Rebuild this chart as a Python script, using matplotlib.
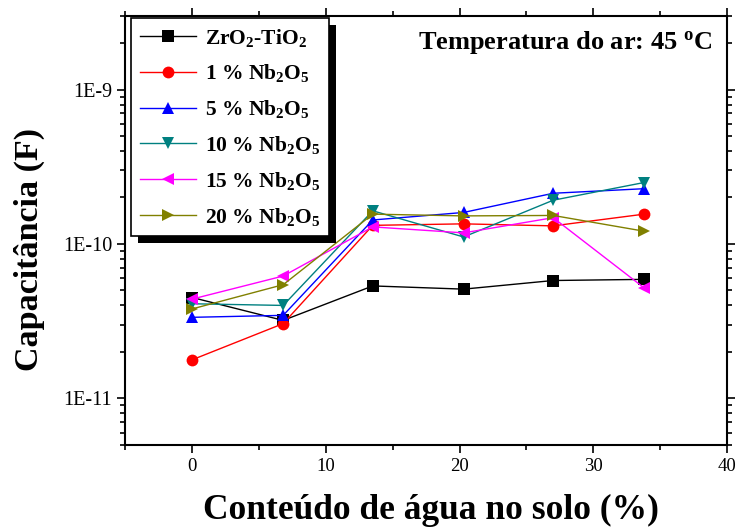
import numpy as np
import matplotlib
matplotlib.use("Agg")
import matplotlib.pyplot as plt
from matplotlib.ticker import FixedLocator, FuncFormatter, LogLocator, MultipleLocator, NullFormatter
from matplotlib.patches import Rectangle

plt.rcParams['font.family'] = ['Liberation Serif', 'DejaVu Serif']
plt.rcParams['mathtext.default'] = 'regular'

# Dados
agua = [0, 6.8, 13.5, 20.3, 27.0, 33.8]
zro2_tio2 = [4.5e-11, 3.2e-11, 5.35e-11, 5.1e-11, 5.8e-11, 5.9e-11]
nb_1 = [1.78e-11, 3.05e-11, 1.32e-10, 1.35e-10, 1.31e-10, 1.56e-10]
nb_5 = [3.35e-11, 3.45e-11, 1.43e-10, 1.6e-10, 2.13e-10, 2.28e-10]
nb_10 = [4.1e-11, 4.0e-11, 1.64e-10, 1.11e-10, 1.92e-10, 2.5e-10]
nb_15 = [4.4e-11, 6.2e-11, 1.29e-10, 1.18e-10, 1.48e-10, 5.2e-11]
nb_20 = [3.8e-11, 5.45e-11, 1.56e-10, 1.52e-10, 1.53e-10, 1.21e-10]

series = [
    (zro2_tio2, r'ZrO$_2$-TiO$_2$', 'black', 's'),
    (nb_1, r'1 % Nb$_2$O$_5$', 'red', 'o'),
    (nb_5, r'5 % Nb$_2$O$_5$', 'blue', '^'),
    (nb_10, r'10 % Nb$_2$O$_5$', '#008080', 'v'),
    (nb_15, r'15 % Nb$_2$O$_5$', 'magenta', '<'),
    (nb_20, r'20 % Nb$_2$O$_5$', '#808000', '>'),
]

fig = plt.figure(figsize=(7.38, 5.29), dpi=100)
ax = fig.add_axes([0.170, 0.159, 0.815, 0.811])

for vals, lab, cor, mk in series:
    ax.plot(agua, vals, marker=mk, color=cor, label=lab, linewidth=1.0,
            markersize=8.5, markeredgewidth=0)

ax.set_yscale('log')
ax.set_xlim(-5, 40)
ax.set_ylim(5e-12, 3e-9)

ax.xaxis.set_major_locator(MultipleLocator(10))
ax.xaxis.set_minor_locator(MultipleLocator(5))
ax.yaxis.set_major_locator(FixedLocator([1e-11, 1e-10, 1e-9]))
ax.yaxis.set_major_formatter(FuncFormatter(lambda v, p: '1E%d' % round(np.log10(v))))
ax.yaxis.set_minor_locator(LogLocator(base=10, subs=np.arange(2, 10)))
ax.yaxis.set_minor_formatter(NullFormatter())

ax.tick_params(which='both', direction='out', top=True, right=True, width=1.2)
ax.tick_params(axis='x', labelsize=13.5)
ax.tick_params(axis='y', labelsize=14.5)
ax.tick_params(which='major', length=6)
ax.tick_params(which='minor', length=3.5)
for s in ax.spines.values():
    s.set_linewidth(1.5)

ax.set_xlabel('Conteúdo de água no solo (%)', fontsize=25.5, fontweight='bold', labelpad=12)
ax.xaxis.set_label_coords(0.508, -0.115)
ax.xaxis.label.set_va('top')
ax.set_ylabel('Capacitância (F)', fontsize=24.5, fontweight='bold')
ax.yaxis.set_label_coords(-0.133, 0.455)

ax.text(0.975, 0.939, r'Temperatura do ar: 45 $^{o}$C', transform=ax.transAxes,
        ha='right', va='center', fontsize=19, fontweight='bold')

leg = ax.legend(loc='upper left', bbox_to_anchor=(0.01, 0.995), borderaxespad=0,
                prop={'weight': 'bold', 'size': 15.5}, fancybox=False, framealpha=1,
                edgecolor='black', handlelength=2.6, labelspacing=0.64,
                handletextpad=0.4, borderpad=0.4)
leg.get_frame().set_linewidth(1.2)

# sombra preta do quadro da legenda
fig.canvas.draw()
bb = leg.get_window_extent()
sombra = Rectangle((bb.x0 + 7, bb.y0 - 7), bb.width, bb.height, transform=None,
                   facecolor='black', edgecolor='none', zorder=4.9)
ax.add_artist(sombra)

fig.savefig('out.png', dpi=100)
